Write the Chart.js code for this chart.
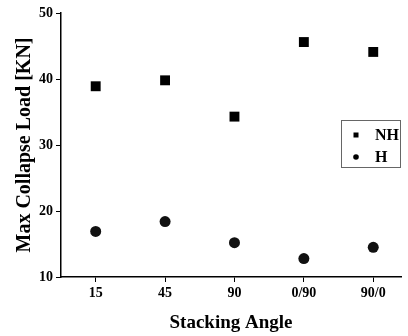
<!DOCTYPE html>
<html>
<head>
<meta charset="utf-8">
<script src="https://cdn.jsdelivr.net/npm/chart.js@4"></script>
<style>
  html, body { margin: 0; padding: 0; background: #fff; }
  #wrap { width: 408px; height: 336px; }
</style>
</head>
<body>
<div id="wrap"><canvas id="chart" width="408" height="336"></canvas></div>
<script>
const angles = ["15", "45", "90", "0/90", "90/0"]
const nhLoad = [38.9, 39.8, 34.3, 45.6, 44.1]
const hLoad = [16.9, 18.4, 15.2, 12.8, 14.5]
const yTicks = [10, 20, 30, 40, 50]

const serif = "'Liberation Serif', 'Times New Roman', serif"

// Boxed legend inside the plot area, like the original figure
const boxLegendPlugin = {
  id: "boxLegend",
  afterDatasetsDraw(chart) {
    const { ctx, chartArea } = chart
    const x = chartArea.right - 60
    const y = chartArea.top + 107
    const w = 59, h = 47
    ctx.save()
    ctx.fillStyle = "#fff"
    ctx.fillRect(x, y, w, h)
    ctx.strokeStyle = "#666"
    ctx.lineWidth = 1
    ctx.strokeRect(x + 0.5, y + 0.5, w, h)
    ctx.font = `bold 16px ${serif}`
    ctx.textBaseline = "middle"
    ctx.fillStyle = "#000"
    chart.data.datasets.forEach((ds, i) => {
      const cy = y + 15 + i * 22
      if (ds.pointStyle === "rect") {
        ctx.fillRect(x + 12.5, cy - 2.5, 5, 5)
      } else {
        ctx.beginPath()
        ctx.arc(x + 15, cy, 2.8, 0, Math.PI * 2)
        ctx.fill()
      }
      ctx.fillText(ds.label, x + 34, cy + 1)
    })
    ctx.restore()
  }
}

const chart = new Chart(document.getElementById("chart"), {
  type: "scatter",
  data: {
    datasets: [
      {
        label: "NH",
        data: nhLoad.map((v, i) => ({ x: i, y: v })),
        pointStyle: "rect",
        pointRadius: 7,
        borderWidth: 0,
        backgroundColor: "#000"
      },
      {
        label: "H",
        data: hLoad.map((v, i) => ({ x: i, y: v })),
        pointStyle: "circle",
        pointRadius: 5.5,
        borderWidth: 0,
        backgroundColor: "#111"
      }
    ]
  },
  plugins: [boxLegendPlugin],
  options: {
    responsive: false,
    animation: false,
    layout: { padding: { top: 13, right: 6, left: 6, bottom: 2 } },
    plugins: {
      legend: { display: false },
      tooltip: { enabled: false }
    },
    scales: {
      x: {
        type: "linear",
        min: -0.5,
        max: 4.4,
        afterBuildTicks: (s) => { s.ticks = angles.map((a, i) => ({ value: i })) },
        afterFit: (s) => { s.height = 57 },
        grid: { display: true, drawOnChartArea: false, drawTicks: true, tickLength: 5, tickColor: "#000", tickWidth: 1 },
        border: { color: "#000", width: 1.5 },
        ticks: {
          color: "#000",
          padding: 3,
          maxRotation: 0,
          font: { family: serif, size: 14, weight: "bold" },
          callback: (v) => angles[v] ?? ""
        },
        title: {
          display: true,
          text: "Stacking Angle",
          color: "#000",
          padding: { top: 0, bottom: 0 },
          font: { family: serif, size: 19, weight: "bold" }
        }
      },
      y: {
        min: 10,
        max: 50,
        afterBuildTicks: (s) => { s.ticks = yTicks.map(v => ({ value: v })) },
        afterFit: (s) => { s.width = 55 },
        grid: { display: true, drawOnChartArea: false, drawTicks: true, tickLength: 5, tickColor: "#000", tickWidth: 1 },
        border: { color: "#000", width: 1.5 },
        ticks: {
          color: "#000",
          padding: 3,
          font: { family: serif, size: 14, weight: "bold" }
        },
        title: {
          display: true,
          text: "Max Collapse Load [KN]",
          color: "#000",
          padding: { top: 7, bottom: 0 },
          font: { family: serif, size: 20, weight: "bold" }
        }
      }
    }
  }
})
</script>
</body>
</html>
